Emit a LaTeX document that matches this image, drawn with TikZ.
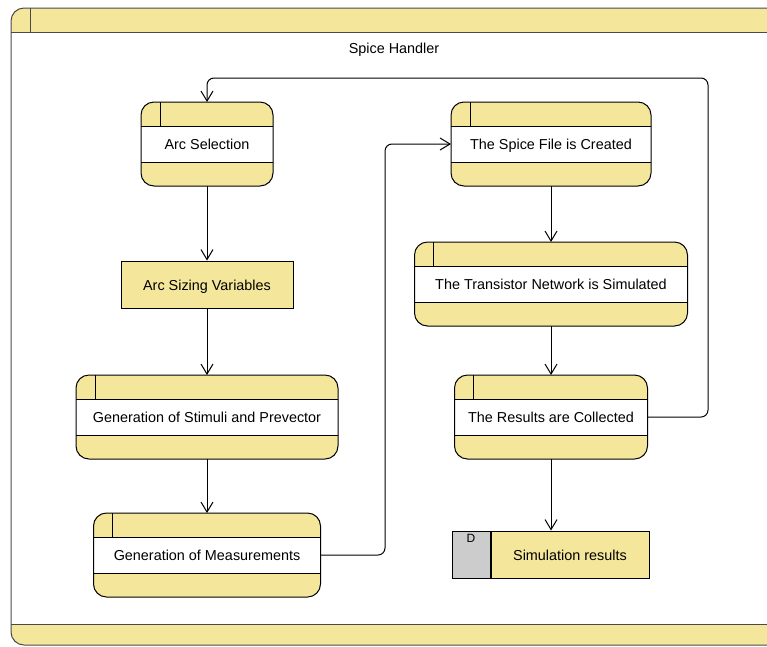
\documentclass[tikz,border=0pt]{standalone}
\usepackage{fontspec}
\setmainfont{Liberation Sans}
\usetikzlibrary{arrows.meta,backgrounds}
\definecolor{lane}{HTML}{F4E79B}
\definecolor{storegrey}{HTML}{CCCCCC}
\definecolor{framegrey}{HTML}{4A4A4A}

\begin{document}
\begin{tikzpicture}[x=1pt, y=-1pt,
  font=\fontsize{14.4}{17}\selectfont,
  textline/.style={text height=11.5pt, text depth=0pt},
  % an activity: its body is painted on the background layer below
  stage/.style={rectangle, minimum height=84pt, inner sep=0pt, outer sep=0pt, textline},
  stageline/.style={draw=black, line width=1pt},
  plainbox/.style={rectangle, draw=black, line width=1pt, fill=lane,
    minimum height=47pt, inner sep=0pt, textline},
  dstore/.style={rectangle, draw=black, line width=1pt, fill=storegrey,
    minimum height=47pt, minimum width=38pt, inner sep=0pt},
  flow/.style={draw=black, line width=1pt,
    -{Straight Barb[length=10pt,width=12pt,line width=1pt]}},
]
\useasboundingbox (0,0) rectangle (767,646);

\node[textline] (title) at (394,48) {Spice Handler};

% left column
\node[stage, minimum width=132pt] (arcsel) at (207,144) {Arc Selection};
\node[plainbox, minimum width=172pt] (arcsize) at (207,284.5) {Arc Sizing Variables};
\node[stage, minimum width=262pt] (stimuli) at (207,417) {Generation of Stimuli and Prevector};
\node[stage, minimum width=227pt] (measure) at (207,555) {Generation of Measurements};

% right column
\node[stage, minimum width=200pt] (spice) at (551,144) {The Spice File is Created};
\node[stage, minimum width=273pt] (network) at (551,284) {The Transistor Network is Simulated};
\node[stage, minimum width=193pt] (results) at (551,417) {The Results are Collected};
\node[plainbox, minimum width=158pt] (simres) at (570,554.5) {Simulation results};
\node[dstore, anchor=east,
  label={[anchor=north, inner sep=0pt, yshift=-3.5pt, font=\fontsize{12}{14}\selectfont]north:D}]
  (simd) at (simres.west) {};

\begin{pgfonlayer}{background}
  % container frame
  \begin{scope}
    \clip (0,0) rectangle (767,646);
    \fill[lane, rounded corners=13pt] (11,8) rectangle (800,645);
    \fill[white] (11,32) rectangle (800,624);
    \draw[framegrey, line width=1pt] (11,32) -- (800,32) (11,624) -- (800,624)
      (30,8) -- (30,32);
    \draw[framegrey, line width=1pt, rounded corners=13pt] (11,8) rectangle (800,645);
  \end{scope}
  % activity bodies: yellow header and footer, white title band, divider
  \foreach \s in {arcsel, stimuli, measure, spice, network, results} {
    \fill[lane, rounded corners=13pt] (\s.north west) rectangle (\s.south east);
    \fill[white] ([yshift=-24.5pt]\s.north west) rectangle ([yshift=23.5pt]\s.south east);
    \draw[stageline]
      ([yshift=-24.5pt]\s.north west) -- ([yshift=-24.5pt]\s.north east)
      ([yshift=23.5pt]\s.south west) -- ([yshift=23.5pt]\s.south east)
      ([xshift=19pt]\s.north west) -- ([xshift=19pt,yshift=-24.5pt]\s.north west);
    \draw[stageline, rounded corners=13pt] (\s.north west) rectangle (\s.south east);
  }
\end{pgfonlayer}

% bend points of the two long connectors
\coordinate (crossbend) at (385,555);
\coordinate (loopcorner) at (708,78);

% connectors
\draw[flow] (arcsel) -- (arcsize);
\draw[flow] (arcsize) -- (stimuli);
\draw[flow] (stimuli) -- (measure);
\draw[flow, rounded corners=7pt] (measure.east) -- (crossbend) |- (spice.west);
\draw[flow] (spice) -- (network);
\draw[flow] (network) -- (results);
\draw[flow] (results.south) -- (results.south |- simres.north);
\draw[flow, rounded corners=7pt] (results.east) -| (loopcorner) -| (arcsel.north);
\end{tikzpicture}
\end{document}
